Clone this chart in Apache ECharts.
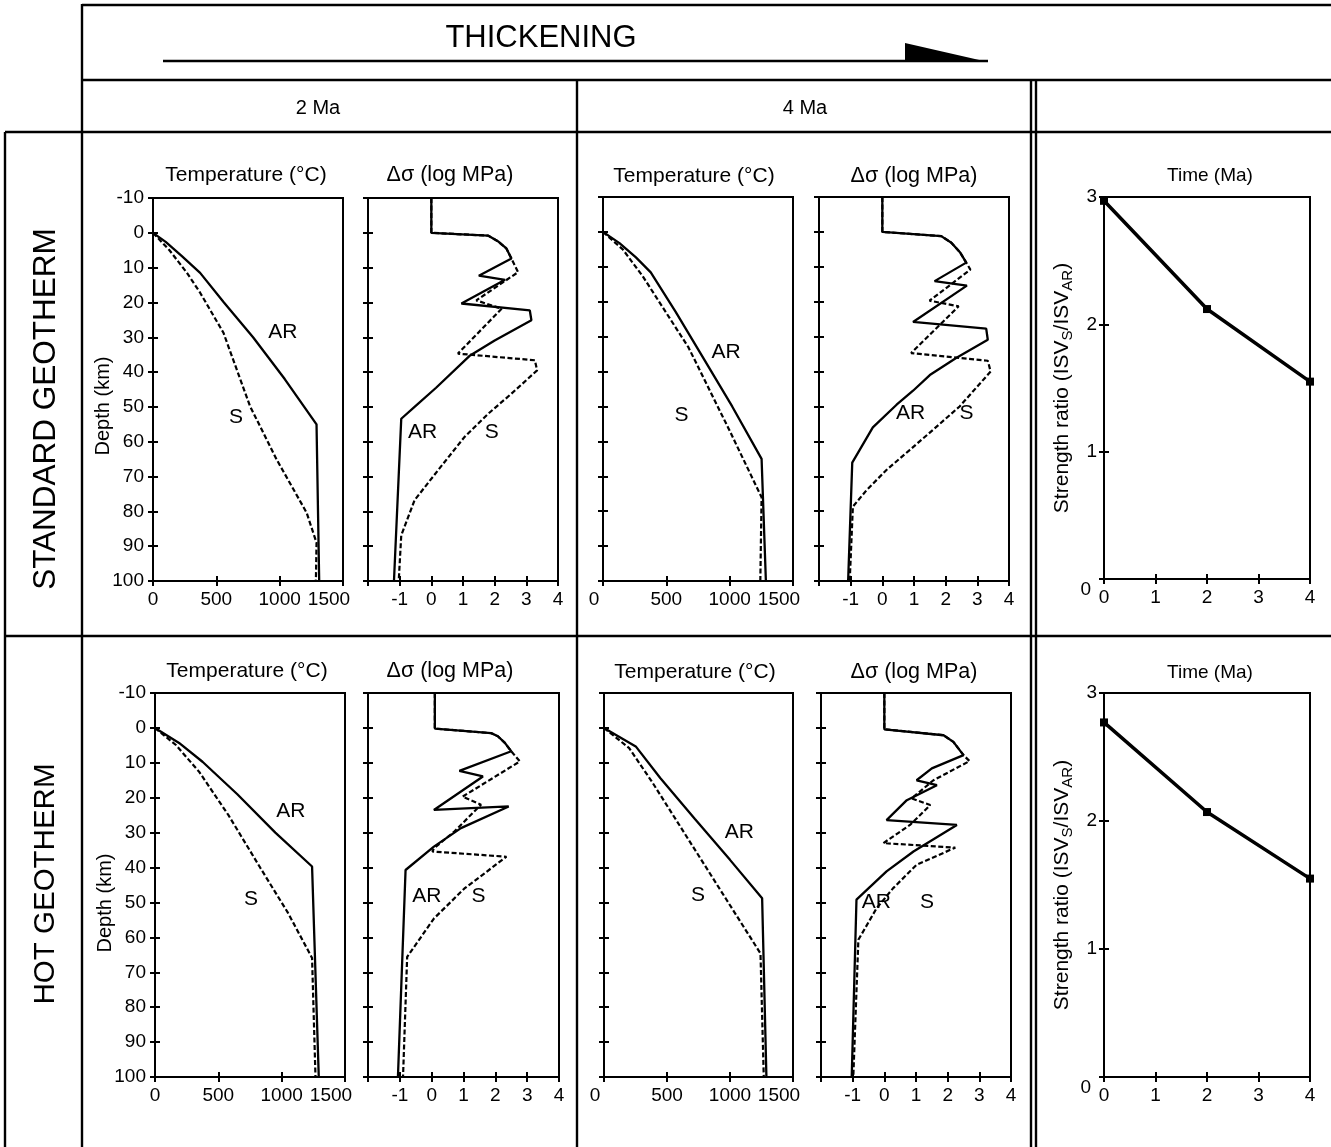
<!DOCTYPE html>
<html><head><meta charset="utf-8">
<script src="https://cdn.jsdelivr.net/npm/echarts@6/dist/echarts.min.js"></script>
<style>html,body{margin:0;padding:0;background:#fff}#c{width:1331px;height:1147px}</style>
</head><body><div id="c"></div><script>
// ---------------- DATA ----------------
// Temperature profiles: [temperature (°C), depth (km)]
const tStd2AR = [[0,0],[100,2.6],[228,6.7],[372,11.5],[560,20],[790,30],[1040,42],[1291,55],[1312,100]];
const tStd2S  = [[0,0],[130,5],[268,11.5],[372,17.2],[556,28.7],[766,49.8],[976,65.1],[1213,80.4],[1291,89],[1286,100]];
const tStd4AR = [[0,0],[130,3.2],[260,7.3],[377,11.6],[575,23],[790,36],[1020,50],[1252,65],[1286,100]];
const tStd4S  = [[0,0],[156,5],[312,12.6],[675,33.1],[987,56],[1252,76],[1242,100]];
const tHot2AR = [[0,0],[190,4.3],[375,9.7],[650,19],[950,30],[1240,39.7],[1293,100]];
const tHot2S  = [[0,0],[165,4.9],[349,12.6],[580,25],[830,40],[1050,53],[1240,65.9],[1267,100]];
const tHot4AR = [[0,0],[252,5.3],[448,14.4],[720,26],[1000,37.8],[1255,48.8],[1289,100]];
const tHot4S  = [[0,0],[200,5.8],[380,15.4],[636,30],[965,48.8],[1242,64.6],[1268,100]];

// Differential stress profiles: [Δσ (log MPa), depth (km)]
const dStd2AR = [[0,-10],[0,0],[1.79,0.8],[2.1,2.4],[2.37,4.5],[2.53,7.4],[1.5,12.3],[2.33,13.5],[0.95,20.3],[3.11,22.3],[3.16,25.1],[2.0,30.9],[1.2,35.4],[0.15,44.5],[-0.53,50],[-0.95,53.4],[-1.18,100]];
const dStd2S  = [[0,-10],[0,0],[1.79,0.8],[2.1,2.4],[2.37,4.5],[2.53,7.4],[2.74,11.3],[1.42,19.4],[2.22,21.8],[0.84,34.7],[3.27,36.6],[3.34,39.5],[2.53,46.2],[1.79,52],[1.05,58.6],[0.21,68.2],[-0.53,76.8],[-0.95,86.9],[-1.03,100]];
const dStd4AR = [[0,-10],[0,0],[1.86,1.2],[2.18,3.1],[2.45,5.8],[2.65,8.8],[1.65,14.1],[2.67,15.4],[0.97,25.8],[3.28,27.7],[3.33,30.9],[2.33,36.1],[1.5,41],[0.97,45.5],[0.45,49.5],[-0.3,56],[-0.95,66.1],[-1.08,100]];
const dStd4S  = [[0,-10],[0,0],[1.86,1.2],[2.18,3.1],[2.45,5.8],[2.65,8.8],[2.78,10.8],[1.49,19.7],[2.41,21.3],[0.91,34.7],[3.33,36.9],[3.42,40],[2.44,50],[1.6,56.7],[0.86,62.5],[0.13,68.2],[-0.5,74],[-0.93,78.7],[-1.03,100]];
const dHot2AR = [[0.1,-10],[0.1,0.2],[1.87,1.5],[2.08,2.4],[2.3,4.3],[2.5,6.7],[0.87,12.3],[1.61,13.9],[0.07,23.5],[2.42,22.5],[0.92,28.7],[0.07,34],[-0.82,40.7],[-1.06,100]];
const dHot2S  = [[0.1,-10],[0.1,0.2],[1.87,1.5],[2.08,2.4],[2.3,4.3],[2.5,6.7],[2.77,9.6],[0.97,19.7],[1.55,22],[0.71,29.7],[0.07,34.5],[0.02,35.4],[2.35,36.9],[1.03,46],[0.07,54.6],[-0.77,65.6],[-0.9,100]];
const dHot4AR = [[0,-10],[0,0.4],[1.87,2.1],[2.18,4],[2.5,7.8],[1.5,11.6],[1.02,15],[1.66,16.4],[0.71,20.7],[0.07,26.4],[2.29,27.8],[0.92,35.4],[0.07,41.1],[-0.88,49.2],[-0.93,49.7],[-1.03,100]];
const dHot4S  = [[0,-10],[0,0.4],[1.87,2.1],[2.18,4],[2.5,7.8],[2.69,9.5],[1.55,15],[0.86,20.2],[1.45,22.1],[0.81,27.8],[-0.03,33],[2.24,34.3],[1.02,39.2],[0.28,45.9],[-0.24,51.6],[-0.82,60.7],[-0.98,100]];

// Curve labels: [x, depth, text]
const lblStd2T = [[1025,28.6,'AR'],[655,53,'S']];
const lblStd2D = [[-0.28,57.3,'AR'],[1.91,57.3,'S']];
const lblStd4T = [[971,34.6,'AR'],[620,52.6,'S']];
const lblStd4D = [[0.89,51.8,'AR'],[2.66,51.8,'S']];
const lblHot2T = [[1073,23.8,'AR'],[758,49.2,'S']];
const lblHot2D = [[-0.15,48.1,'AR'],[1.47,48.1,'S']];
const lblHot4T = [[1075,29.8,'AR'],[747,47.8,'S']];
const lblHot4D = [[-0.25,50,'AR'],[1.35,50,'S']];

// Strength ratio vs time
const timeMa = [0, 2, 4];
const ratioStd = [2.97, 2.12, 1.55];
const ratioHot = [2.77, 2.07, 1.55];

// Texts
const headerText = 'THICKENING';
const colHeaders = ['2 Ma', '4 Ma'];
const rowHeaders = ['STANDARD GEOTHERM', 'HOT GEOTHERM'];
const tempTitle = 'Temperature (°C)';
const stressTitle = 'Δσ (log MPa)';
const timeTitle = 'Time (Ma)';
const depthName = 'Depth (km)';

// ---------------- LAYOUT ----------------
const FONT = '"Liberation Sans", Arial, Helvetica, sans-serif';
const LBL = 19;
const panels = [
  {kind:'temp',  g:{left:153,top:198,width:190,height:383}, yLab:true,  shift0:false, tx:246, ty:175, ar:tStd2AR, s:tStd2S, lbl:lblStd2T},
  {kind:'stress',g:{left:368,top:198,width:190,height:383}, tx:450, ty:175, ar:dStd2AR, s:dStd2S, lbl:lblStd2D},
  {kind:'temp',  g:{left:603,top:197,width:190,height:384}, yLab:false, shift0:true,  tx:694, ty:176, ar:tStd4AR, s:tStd4S, lbl:lblStd4T},
  {kind:'stress',g:{left:819,top:197,width:190,height:384}, tx:914, ty:176, ar:dStd4AR, s:dStd4S, lbl:lblStd4D},
  {kind:'ratio', g:{left:1104,top:197,width:206,height:382}, tx:1210, ty:176, r:ratioStd},
  {kind:'temp',  g:{left:155,top:693,width:190,height:384}, yLab:true,  shift0:false, tx:247, ty:671, ar:tHot2AR, s:tHot2S, lbl:lblHot2T},
  {kind:'stress',g:{left:368,top:693,width:191,height:384}, tx:450, ty:671, ar:dHot2AR, s:dHot2S, lbl:lblHot2D},
  {kind:'temp',  g:{left:604,top:693,width:189,height:384}, yLab:false, shift0:true,  tx:695, ty:672, ar:tHot4AR, s:tHot4S, lbl:lblHot4T},
  {kind:'stress',g:{left:821,top:693,width:190,height:384}, tx:914, ty:672, ar:dHot4AR, s:dHot4S, lbl:lblHot4D},
  {kind:'ratio', g:{left:1104,top:693,width:206,height:384}, tx:1210, ty:673, r:ratioHot}
];
const depthNamePos = [[103,406],[105,903]];

const grids = [], xAxes = [], yAxes = [], series = [], graphics = [];
const lineBlack = {color:'#000', width:2};
const tickLen = 5;
const richBase = {fontSize:LBL, fontFamily:FONT, color:'#000'};

function axisPair(base, showLabel, labelOpts, position, extra) {
  const primary = Object.assign({
    type:'value', position, axisLine:{show:true, onZero:false, lineStyle:lineBlack},
    axisTick:{show:true, inside:false, length:tickLen, lineStyle:lineBlack},
    axisLabel:Object.assign({show:showLabel, color:'#000', fontSize:LBL, fontFamily:FONT, margin:9}, labelOpts||{}),
    splitLine:{show:false}
  }, base, extra||{});
  const secondary = Object.assign({
    type:'value', position, axisLine:{show:false, onZero:false},
    axisTick:{show:true, inside:true, length:tickLen, lineStyle:lineBlack},
    axisLabel:{show:false}, splitLine:{show:false}
  }, base);
  return [primary, secondary];
}

function txt(x, y, text, size, rot) {
  const el = {type:'text', x:x, y:y, silent:true, style:{text:text, fill:'#000', font:size + 'px ' + FONT,
    textAlign:'center', align:'center', textVerticalAlign:'middle', verticalAlign:'middle'}};
  if (rot) el.rotation = rot;
  return el;
}

panels.forEach((p, i) => {
  grids.push(Object.assign({show:true, borderColor:'#000', borderWidth:2, backgroundColor:'transparent'}, p.g));
  let xb, yb, xl = {}, yl = {}, yExtra = {};
  if (p.kind === 'temp') {
    xb = {gridIndex:i, min:0, max:1500, interval:500};
    const sh = p.shift0;
    xl = {formatter: v => (v === 1500 ? '{m|1500}' : (v === 0 && sh ? '{z|0}' : String(v))),
          rich:{m:Object.assign({padding:[0,28,0,0]}, richBase), z:Object.assign({padding:[0,18,0,0]}, richBase)}};
    yb = {gridIndex:i, min:-10, max:100, interval:10, inverse:true};
    yl = {formatter: v => String(v)};
  } else if (p.kind === 'stress') {
    xb = {gridIndex:i, min:-2, max:4, interval:1};
    xl = {formatter: v => (v === -2 ? '' : String(v))};
    yb = {gridIndex:i, min:-10, max:100, interval:10, inverse:true};
  } else {
    xb = {gridIndex:i, min:0, max:4, interval:1};
    yb = {gridIndex:i, min:0, max:3, interval:1};
    yl = {formatter: v => (v === 0 ? '{z|0}' : String(v)), margin:7,
          rich:{z:Object.assign({padding:[22,6,0,0]}, richBase)}};
    yExtra = {name:'{a|Strength ratio (ISV}{s|S}{a|/ISV}{s|AR}{a|)}', nameLocation:'middle', nameGap:29, nameRotate:90,
      nameTextStyle:{color:'#000', fontFamily:FONT, rich:{
        a:{fontSize:21, fontFamily:FONT, color:'#000', lineHeight:26, verticalAlign:'middle'},
        s:{fontSize:15, fontFamily:FONT, color:'#000', lineHeight:13, verticalAlign:'bottom'}}}};
  }
  const showY = p.kind === 'ratio' ? true : !!p.yLab;
  xAxes.push(...axisPair(xb, true, xl, 'bottom'));
  yAxes.push(...axisPair(yb, showY, yl, 'left', yExtra));
  const xi = 2*i, yi = 2*i;
  if (p.kind === 'ratio') {
    series.push({type:'line', xAxisIndex:xi, yAxisIndex:yi, data:timeMa.map((t,k)=>[t,p.r[k]]),
      symbol:'rect', symbolSize:8, showSymbol:true, lineStyle:{color:'#000', width:3.5},
      itemStyle:{color:'#000'}, animation:false, silent:true, clip:false, z:5});
  } else {
    series.push({type:'line', xAxisIndex:xi, yAxisIndex:yi, data:p.s, showSymbol:false, symbol:'none',
      lineStyle:{color:'#000', width:2.2, type:[5,2.5]}, animation:false, silent:true, z:3});
    series.push({type:'line', xAxisIndex:xi, yAxisIndex:yi, data:p.ar, showSymbol:false, symbol:'none',
      lineStyle:{color:'#000', width:2.3}, animation:false, silent:true, z:4});
    series.push({type:'scatter', xAxisIndex:xi, yAxisIndex:yi, data:p.lbl, symbolSize:0, animation:false, silent:true,
      itemStyle:{opacity:1},
      label:{show:true, position:'inside', formatter: d => d.data[2], color:'#000', opacity:1,
             textBorderWidth:0, fontSize:21, fontFamily:FONT}, z:6});
  }
  const ttl = p.kind === 'temp' ? tempTitle : (p.kind === 'stress' ? stressTitle : timeTitle);
  const tsz = p.kind === 'temp' ? 21 : (p.kind === 'stress' ? 21.5 : 19);
  graphics.push(txt(p.tx, p.ty, ttl, tsz));
});

// Depth axis names
depthNamePos.forEach(d => graphics.push(txt(d[0], d[1], depthName, 20, Math.PI/2)));

// Frame lines of the table
const frame = [
  [82,5,1331,5],[82,4,82,1147],[82,80,1331,80],[5,132,1331,132],[5,132,5,1147],
  [577,80,577,1147],[1031,80,1031,1147],[1036,80,1036,1147],[5,636,1331,636]
];
frame.forEach(f => graphics.push({type:'line', shape:{x1:f[0],y1:f[1],x2:f[2],y2:f[3]},
  style:{stroke:'#000', lineWidth:2.4}, silent:true}));
// Arrow
graphics.push({type:'line', shape:{x1:163,y1:61,x2:988,y2:61}, style:{stroke:'#000', lineWidth:2.4}, silent:true});
graphics.push({type:'polygon', shape:{points:[[905,43],[905,62],[988,62]]}, style:{fill:'#000'}, silent:true});
graphics.push(txt(541, 38, headerText, 31));
graphics.push(txt(318, 108, colHeaders[0], 20));
graphics.push(txt(805, 108, colHeaders[1], 20));
graphics.push(txt(46, 409, rowHeaders[0], 31.5, Math.PI/2));
graphics.push(txt(46, 884, rowHeaders[1], 29.5, Math.PI/2));

const chart = echarts.init(document.getElementById('c'), null, {renderer:'canvas'});
chart.setOption({
  backgroundColor:'#fff', animation:false,
  grid:grids, xAxis:xAxes, yAxis:yAxes, series:series, graphic:graphics
});
</script></body></html>
